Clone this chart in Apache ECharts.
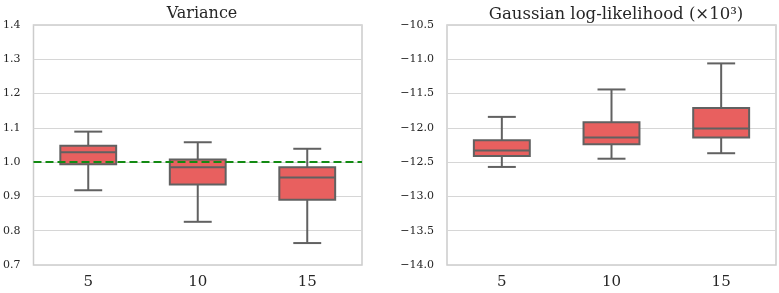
<!DOCTYPE html>
<html>
<head>
<meta charset="utf-8">
<script src="https://cdn.jsdelivr.net/npm/echarts@6/dist/echarts.min.js"></script>
<style>
  html, body {margin: 0; padding: 0; background: #fff;}
  #chart {width: 779px; height: 293px;}
</style>
</head>
<body>
<div id="chart"></div>
<script>
const categories = ['5', '10', '15'];
// [min, q1, median, q3, max]
const varianceBoxes = [
  [0.918, 0.994, 1.029, 1.048, 1.089],
  [0.826, 0.935, 0.985, 1.008, 1.058],
  [0.764, 0.890, 0.955, 0.985, 1.039]
];
const loglikBoxes = [
  [-12.57, -12.41, -12.33, -12.18, -11.84],
  [-12.45, -12.24, -12.14, -11.92, -11.44],
  [-12.37, -12.14, -12.01, -11.71, -11.06]
];
const varianceTarget = 1.0;

const FONT = '"DejaVu Serif", serif';
const BOX_FILL = '#e8605f';
const EDGE = '#616161';

const minus = v => String(v).replace('-', '\u2212');

const renderBox = (params, api) => {
  const i = api.value(0);
  const band = api.size([1, 0])[0];
  const half = band * 0.255;
  const capHalf = half / 2;
  const pMin = api.coord([i, api.value(1)]);
  const pQ1 = api.coord([i, api.value(2)]);
  const pMed = api.coord([i, api.value(3)]);
  const pQ3 = api.coord([i, api.value(4)]);
  const pMax = api.coord([i, api.value(5)]);
  const x = pMed[0];
  const line = (x1, y1, x2, y2) => ({
    type: 'line',
    shape: {x1, y1, x2, y2},
    style: {stroke: EDGE, lineWidth: 2}
  });
  return {
    type: 'group',
    children: [
      line(x, pMax[1], x, pQ3[1]),
      line(x, pQ1[1], x, pMin[1]),
      line(x - capHalf, pMax[1], x + capHalf, pMax[1]),
      line(x - capHalf, pMin[1], x + capHalf, pMin[1]),
      {
        type: 'rect',
        shape: {x: x - half, y: pQ3[1], width: half * 2, height: pQ1[1] - pQ3[1]},
        style: {fill: BOX_FILL, stroke: EDGE, lineWidth: 2}
      },
      line(x - half, pMed[1], x + half, pMed[1])
    ]
  };
};

const toData = boxes => boxes.map((b, i) => [i, ...b]);

const xAxisBase = gridIndex => ({
  type: 'category',
  gridIndex,
  data: categories,
  boundaryGap: true,
  axisLine: {show: false},
  axisTick: {show: false},
  axisLabel: {fontFamily: FONT, fontSize: 15, color: '#262626', margin: 10},
  splitLine: {show: false}
});

const yAxisBase = (gridIndex, min, max, interval, formatter) => ({
  type: 'value',
  gridIndex,
  min, max, interval,
  axisLine: {show: false},
  axisTick: {show: false},
  axisLabel: {fontFamily: FONT, fontSize: 11, color: '#262626', margin: 13, formatter},
  splitLine: {lineStyle: {color: '#d6d6d6', width: 1}}
});

const chart = echarts.init(document.getElementById('chart'));
chart.setOption({
  animation: false,
  backgroundColor: '#fff',
  title: [
    {text: 'Variance', left: 197, top: 1, textAlign: 'center',
      textStyle: {fontFamily: FONT, fontSize: 16, fontWeight: 'normal', color: '#262626'}},
    {text: 'Gaussian log-likelihood (\u00d710\u00b3)', left: 611, top: 1, textAlign: 'center',
      textStyle: {fontFamily: FONT, fontSize: 16.5, fontWeight: 'normal', color: '#262626'}}
  ],
  grid: [
    {left: 33, top: 25, width: 329, height: 240, show: true, borderColor: '#cccccc', borderWidth: 1.5},
    {left: 447, top: 25, width: 329, height: 240, show: true, borderColor: '#cccccc', borderWidth: 1.5}
  ],
  xAxis: [xAxisBase(0), xAxisBase(1)],
  yAxis: [
    yAxisBase(0, 0.7, 1.4, 0.1, v => v.toFixed(1)),
    yAxisBase(1, -14, -10.5, 0.5, v => minus(v.toFixed(1)))
  ],
  series: [
    {
      type: 'custom',
      xAxisIndex: 0, yAxisIndex: 0,
      renderItem: renderBox,
      data: toData(varianceBoxes),
      markLine: {
        silent: true,
        symbol: 'none',
        label: {show: false},
        z: 10,
        lineStyle: {color: '#138a13', type: [8, 4], width: 2},
        data: [{yAxis: varianceTarget}]
      }
    },
    {
      type: 'custom',
      xAxisIndex: 1, yAxisIndex: 1,
      renderItem: renderBox,
      data: toData(loglikBoxes)
    }
  ]
});
</script>
</body>
</html>
